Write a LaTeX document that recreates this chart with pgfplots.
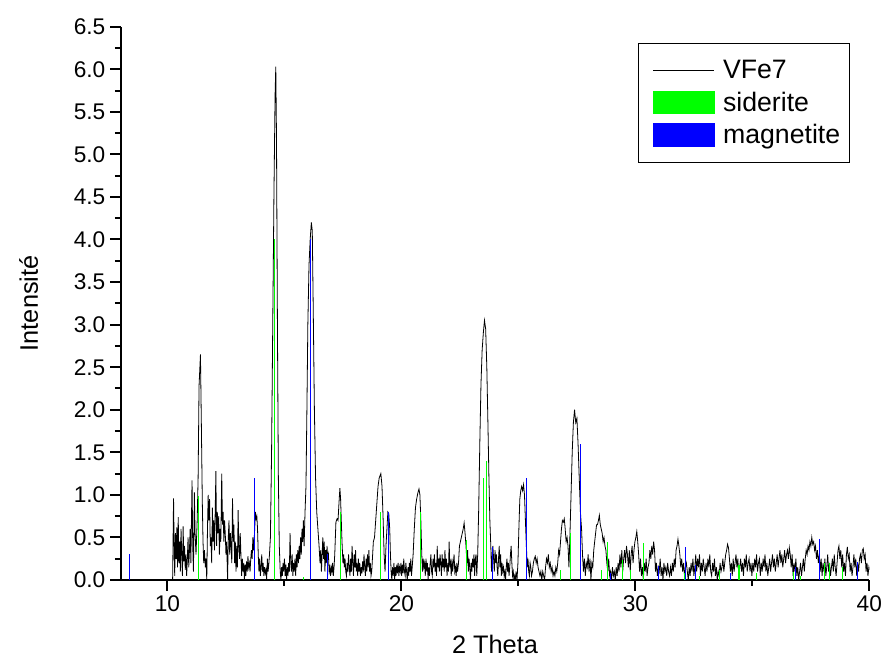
\documentclass[border=0pt]{standalone}
\usepackage{pgfplots}
\pgfplotsset{compat=1.18}
\usepackage{fontspec}
\setmainfont{Liberation Sans}
\usetikzlibrary{calc}
\definecolor{sidgreen}{RGB}{0,255,0}
\definecolor{magblue}{RGB}{0,0,255}
\begin{document}
\begin{tikzpicture}
\begin{axis}[name=ax, scale only axis, width=561.45pt, height=415pt,
 xmin=8, xmax=40, ymin=0, ymax=6.5,
 axis lines*=left, axis line style={line width=1.5pt},
 tick align=outside, major tick length=8pt, minor tick length=4.3pt,
 every tick/.style={black, line width=1.5pt},
 xtick={10,20,30,40}, minor xtick={15,25,35},
 ytick={0,0.5,1,1.5,2,2.5,3,3.5,4,4.5,5,5.5,6,6.5},
 minor ytick={0.25,0.75,1.25,1.75,2.25,2.75,3.25,3.75,4.25,4.75,5.25,5.75,6.25},
 yticklabel style={/pgf/number format/.cd, fixed, fixed zerofill, precision=1},
 /pgf/number format/assume math mode=true,
 tick label style={font=\fontsize{17}{20}\selectfont},
 label style={font=\fontsize{19}{22}\selectfont},
 xlabel={2 Theta}, ylabel={Intensité},
 xlabel style={at={(axis description cs:0.5,-0.132)}, anchor=base},
 ylabel style={at={(axis description cs:-0.123,0.5)}, anchor=center},
 legend style={at={(0.9742,0.9705)}, anchor=north east, draw=black, line width=0.75pt,
   font=\fontsize{20}{24}\selectfont, legend cell align=left,
   inner xsep=5pt, inner ysep=10.5pt, row sep=4.5pt},
]
\addplot[black, line width=0.6pt, legend image code/.code={\path (0pt,0pt) (56pt,0pt); \draw[black, line width=0.6pt] (6pt,0pt) -- (51.75pt,0pt);}] coordinates {
(8,0) (10.22,0) (10.26,0.96) (10.29,0.30) (10.31,0.05) (10.34,0.55) (10.37,0.25) (10.40,0.62) (10.43,0.15) (10.46,0.74) (10.49,0.20) (10.52,0.45) (10.55,0.10) (10.58,0.60) (10.61,0.28) (10.64,0.05) (10.67,0.63) (10.70,0.22) (10.73,0.40) (10.76,0.12) (10.79,0.30) (10.82,0.05) (10.85,0.25) (10.88,0.50) (10.91,0.15) (10.94,0.35) (10.97,0.60) (11.00,0.20) (11.05,1.17) (11.08,0.40) (11.11,0.10) (11.15,1.03) (11.18,0.55) (11.22,0.30) (11.27,0.70) (11.31,1.20) (11.35,2.28) (11.41,2.65) (11.45,1.80) (11.49,0.90) (11.52,0.45) (11.55,0.20) (11.58,0.35) (11.62,0.15) (11.65,0.25) (11.68,0.00) (11.71,0.60) (11.74,1.00) (11.77,0.70) (11.80,0.95) (11.83,0.40) (11.86,0.50) (11.89,0.20) (11.92,0.85) (11.95,0.45) (11.98,0.70) (12.01,0.35) (12.04,0.80) (12.07,1.28) (12.10,0.40) (12.13,0.80) (12.16,0.55) (12.19,0.75) (12.22,0.30) (12.25,0.60) (12.28,0.45) (12.32,1.25) (12.35,0.65) (12.38,0.80) (12.41,0.45) (12.44,0.70) (12.47,0.55) (12.50,0.30) (12.53,0.45) (12.57,0.00) (12.60,0.50) (12.63,0.70) (12.66,0.30) (12.69,0.55) (12.72,0.40) (12.75,0.20) (12.78,0.96) (12.81,0.45) (12.84,0.65) (12.87,0.20) (12.90,0.45) (12.93,0.10) (12.96,0.40) (12.99,0.15) (13.02,0.82) (13.05,0.40) (13.08,0.25) (13.11,0.55) (13.14,0.30) (13.17,0.05) (13.20,0.25) (13.23,0.10) (13.26,0.20) (13.29,0.00) (13.32,0.18) (13.35,0.05) (13.38,0.22) (13.41,0.10) (13.44,0.28) (13.47,0.15) (13.50,0.20) (13.53,0.10) (13.56,0.25) (13.59,0.35) (13.62,0.25) (13.65,0.50) (13.68,0.35) (13.72,0.55) (13.76,0.80) (13.79,0.72) (13.82,0.75) (13.85,0.60) (13.88,0.30) (13.91,0.10) (13.94,0.25) (13.97,0.05) (14.00,0.15) (14.03,0.30) (14.06,0.10) (14.09,0.20) (14.12,0.05) (14.15,0.15) (14.18,0.08) (14.21,0.12) (14.24,0.00) (14.27,0.25) (14.30,0.10) (14.33,0.18) (14.36,0.30) (14.40,0.50) (14.45,1.50) (14.50,3.00) (14.55,4.50) (14.60,5.70) (14.63,6.03) (14.66,5.20) (14.70,3.00) (14.74,1.20) (14.78,0.40) (14.82,0.10) (14.85,0.00) (14.88,0.15) (14.91,0.05) (14.94,0.20) (14.97,0.10) (15.00,0.25) (15.03,0.05) (15.06,0.18) (15.09,0.00) (15.12,0.15) (15.15,0.05) (15.18,0.20) (15.21,0.10) (15.24,0.55) (15.27,0.20) (15.30,0.10) (15.33,0.30) (15.36,0.05) (15.39,0.20) (15.42,0.10) (15.45,0.25) (15.48,0.05) (15.51,0.30) (15.54,0.15) (15.57,0.35) (15.60,0.20) (15.63,0.40) (15.66,0.25) (15.69,0.50) (15.72,0.30) (15.75,0.60) (15.78,0.45) (15.81,0.70) (15.84,0.40) (15.88,0.80) (15.92,1.10) (15.96,2.00) (16.00,3.00) (16.05,3.70) (16.10,4.00) (16.15,4.20) (16.19,4.10) (16.23,3.20) (16.28,2.00) (16.33,1.20) (16.38,0.80) (16.43,0.60) (16.48,0.40) (16.52,0.20) (16.55,0.35) (16.58,0.10) (16.61,0.30) (16.64,0.50) (16.67,0.25) (16.70,0.45) (16.73,0.10) (16.76,0.35) (16.79,0.20) (16.82,0.40) (16.85,0.25) (16.88,0.30) (16.91,0.10) (16.94,0.15) (16.97,0.05) (17.00,0.15) (17.03,0.10) (17.06,0.20) (17.09,0.05) (17.12,0.15) (17.15,0.30) (17.20,0.68) (17.25,0.72) (17.29,0.70) (17.33,0.90) (17.37,1.08) (17.40,0.95) (17.43,0.70) (17.46,0.45) (17.50,0.20) (17.53,0.30) (17.56,0.15) (17.59,0.25) (17.62,0.10) (17.65,0.05) (17.68,0.20) (17.71,0.10) (17.74,0.30) (17.77,0.15) (17.80,0.05) (17.83,0.25) (17.86,0.10) (17.89,0.40) (17.92,0.20) (17.95,0.05) (17.98,0.30) (18.01,0.15) (18.04,0.35) (18.07,0.10) (18.10,0.20) (18.13,0.05) (18.16,0.25) (18.19,0.10) (18.22,0.20) (18.25,0.05) (18.28,0.15) (18.31,0.08) (18.34,0.22) (18.37,0.10) (18.40,0.30) (18.43,0.15) (18.46,0.05) (18.49,0.25) (18.52,0.10) (18.55,0.30) (18.58,0.15) (18.61,0.35) (18.64,0.10) (18.67,0.20) (18.70,0.05) (18.73,0.10) (18.76,0.25) (18.80,0.45) (18.85,0.50) (18.90,0.70) (18.95,0.90) (19.00,1.10) (19.05,1.20) (19.12,1.25) (19.17,1.10) (19.22,0.70) (19.26,0.30) (19.30,0.10) (19.34,0.40) (19.38,0.60) (19.42,0.80) (19.46,0.78) (19.50,0.60) (19.53,0.30) (19.56,0.10) (19.59,0.00) (19.62,0.15) (19.65,0.05) (19.68,0.20) (19.71,0.00) (19.74,0.15) (19.77,0.05) (19.80,0.18) (19.83,0.08) (19.86,0.20) (19.89,0.05) (19.92,0.15) (19.95,0.10) (19.98,0.20)
(20.01,0.05) (20.04,0.18) (20.07,0.08) (20.10,0.25) (20.13,0.10) (20.16,0.05) (20.19,0.20) (20.22,0.10) (20.25,0.00) (20.28,0.15) (20.31,0.05) (20.34,0.20) (20.37,0.10) (20.40,0.25) (20.43,0.05) (20.46,0.15) (20.50,0.30) (20.55,0.60) (20.60,0.85) (20.65,0.95) (20.70,1.02) (20.75,1.07) (20.79,1.00) (20.83,0.70) (20.87,0.30) (20.90,0.10) (20.93,0.25) (20.96,0.15) (20.99,0.20) (21.02,0.05) (21.05,0.25) (21.08,0.10) (21.11,0.20) (21.14,0.00) (21.17,0.15) (21.20,0.05) (21.23,0.20) (21.26,0.30) (21.29,0.10) (21.32,0.05) (21.35,0.25) (21.38,0.15) (21.41,0.30) (21.44,0.10) (21.47,0.20) (21.50,0.05) (21.53,0.40) (21.56,0.15) (21.59,0.25) (21.62,0.10) (21.65,0.30) (21.68,0.20) (21.71,0.05) (21.74,0.30) (21.77,0.15) (21.80,0.25) (21.83,0.10) (21.86,0.35) (21.89,0.15) (21.92,0.25) (21.95,0.05) (21.98,0.20) (22.01,0.10) (22.04,0.45) (22.07,0.15) (22.10,0.20) (22.13,0.05) (22.16,0.25) (22.19,0.10) (22.22,0.20) (22.25,0.30) (22.28,0.10) (22.31,0.15) (22.34,0.05) (22.37,0.20) (22.40,0.10) (22.44,0.20) (22.48,0.40) (22.52,0.45) (22.56,0.50) (22.60,0.55) (22.64,0.60) (22.68,0.67) (22.72,0.55) (22.76,0.40) (22.80,0.20) (22.83,0.35) (22.86,0.10) (22.89,0.25) (22.92,0.15) (22.95,0.00) (22.98,0.20) (23.01,0.10) (23.04,0.25) (23.07,0.15) (23.10,0.30) (23.13,0.05) (23.16,0.25) (23.19,0.30) (23.22,0.05) (23.26,0.30) (23.30,0.80) (23.35,1.60) (23.40,2.30) (23.45,2.70) (23.50,2.90) (23.55,3.05) (23.60,2.95) (23.65,2.50) (23.70,1.80) (23.74,1.20) (23.78,0.70) (23.82,0.40) (23.85,0.10) (23.88,0.30) (23.91,0.40) (23.94,0.25) (23.97,0.10) (24.00,0.35) (24.03,0.20) (24.06,0.30) (24.09,0.15) (24.12,0.05) (24.15,0.25) (24.18,0.40) (24.21,0.15) (24.24,0.30) (24.27,0.05) (24.30,0.20) (24.33,0.10) (24.36,0.15) (24.39,0.05) (24.42,0.10) (24.45,0.00) (24.48,0.15) (24.51,0.25) (24.54,0.10) (24.57,0.20) (24.60,0.05) (24.63,0.15) (24.66,0.30) (24.69,0.40) (24.72,0.20) (24.75,0.05) (24.78,0.10) (24.81,0.00) (24.84,0.05) (24.87,0.00) (24.90,0.10) (24.94,0.00) (24.98,0.20) (25.02,0.60) (25.06,0.95) (25.10,1.05) (25.14,1.10) (25.18,1.05) (25.22,1.12) (25.26,1.00) (25.30,0.70) (25.34,0.40) (25.38,0.15) (25.41,0.25) (25.44,0.10) (25.47,0.05) (25.50,0.20) (25.53,0.15) (25.56,0.05) (25.60,0.10) (25.64,0.20) (25.68,0.25) (25.72,0.28) (25.76,0.20) (25.80,0.25) (25.84,0.15) (25.88,0.10) (25.92,0.05) (25.96,0.10) (26.00,0.00) (26.04,0.10) (26.08,0.05) (26.12,0.00) (26.16,0.15) (26.20,0.25) (26.24,0.20) (26.28,0.30) (26.32,0.15) (26.36,0.20) (26.40,0.10) (26.44,0.15) (26.48,0.05) (26.52,0.10) (26.56,0.05) (26.60,0.15) (26.64,0.10) (26.68,0.20) (26.72,0.35) (26.76,0.30) (26.80,0.45) (26.84,0.60) (26.88,0.70) (26.92,0.68) (26.96,0.72) (27.00,0.60) (27.04,0.45) (27.08,0.50) (27.12,0.40) (27.16,0.15) (27.20,0.50) (27.25,1.00) (27.30,1.50) (27.35,1.85) (27.40,2.00) (27.45,1.85) (27.50,1.90) (27.55,1.60) (27.60,1.20) (27.65,0.80) (27.70,0.60) (27.74,0.30) (27.78,0.10) (27.82,0.25) (27.86,0.05) (27.90,0.20) (27.94,0.15) (27.98,0.30) (28.02,0.10) (28.06,0.25) (28.10,0.00) (28.14,0.20) (28.18,0.15) (28.22,0.35) (28.26,0.45) (28.30,0.55) (28.34,0.65) (28.38,0.65) (28.42,0.70) (28.46,0.76) (28.50,0.65) (28.54,0.60) (28.58,0.55) (28.62,0.45) (28.66,0.50) (28.70,0.40) (28.74,0.35) (28.78,0.20) (28.82,0.10) (28.86,0.25) (28.90,0.05) (28.94,0.10) (28.98,0.00) (29.02,0.15) (29.06,0.05) (29.10,0.10) (29.14,0.00) (29.18,0.15) (29.22,0.05) (29.26,0.20) (29.30,0.10) (29.34,0.30) (29.38,0.15) (29.42,0.35) (29.46,0.10) (29.50,0.25) (29.54,0.35) (29.58,0.20) (29.62,0.40) (29.66,0.30) (29.70,0.15) (29.74,0.35) (29.78,0.10) (29.82,0.30) (29.86,0.40) (29.90,0.20) (29.94,0.35) (29.98,0.45) (30.02,0.50) (30.06,0.57) (30.10,0.45) (30.14,0.30) (30.18,0.10) (30.22,0.25) (30.26,0.05) (30.30,0.15) (30.34,0.00) (30.38,0.20) (30.42,0.10) (30.46,0.25) (30.50,0.05) (30.54,0.15) (30.58,0.20) (30.62,0.35) (30.66,0.25) (30.70,0.40) (30.74,0.30) (30.78,0.45) (30.82,0.35) (30.86,0.10) (30.90,0.20) (30.94,0.05) (30.98,0.15)
(31.02,0.10) (31.06,0.25) (31.10,0.05) (31.14,0.15) (31.18,0.00) (31.22,0.20) (31.26,0.10) (31.30,0.15) (31.34,0.05) (31.38,0.20) (31.42,0.10) (31.46,0.05) (31.50,0.15) (31.54,0.05) (31.58,0.20) (31.62,0.10) (31.66,0.25) (31.70,0.15) (31.74,0.35) (31.78,0.40) (31.82,0.48) (31.86,0.40) (31.90,0.30) (31.94,0.15) (31.98,0.25) (32.02,0.10) (32.06,0.20) (32.10,0.05) (32.14,0.15) (32.18,0.20) (32.22,0.10) (32.26,0.00) (32.30,0.15) (32.34,0.05) (32.38,0.20) (32.42,0.10) (32.46,0.25) (32.50,0.05) (32.54,0.15) (32.58,0.30) (32.62,0.10) (32.66,0.25) (32.70,0.15) (32.74,0.30) (32.78,0.05) (32.82,0.20) (32.86,0.10) (32.90,0.25) (32.94,0.15) (32.98,0.05) (33.02,0.20) (33.06,0.10) (33.10,0.25) (33.14,0.15) (33.18,0.30) (33.22,0.10) (33.26,0.05) (33.30,0.20) (33.34,0.10) (33.38,0.25) (33.42,0.05) (33.46,0.15) (33.50,0.00) (33.54,0.10) (33.58,0.05) (33.62,0.20) (33.66,0.10) (33.70,0.15) (33.74,0.25) (33.78,0.10) (33.82,0.20) (33.86,0.30) (33.90,0.35) (33.94,0.42) (33.98,0.38) (34.02,0.25) (34.06,0.10) (34.10,0.20) (34.14,0.05) (34.18,0.25) (34.22,0.10) (34.26,0.20) (34.30,0.30) (34.34,0.15) (34.38,0.25) (34.42,0.05) (34.46,0.15) (34.50,0.25) (34.54,0.10) (34.58,0.20) (34.62,0.05) (34.66,0.25) (34.70,0.15) (34.74,0.30) (34.78,0.10) (34.82,0.20) (34.86,0.25) (34.90,0.10) (34.94,0.20) (34.98,0.05) (35.02,0.20) (35.06,0.10) (35.10,0.25) (35.14,0.15) (35.18,0.30) (35.22,0.10) (35.26,0.20) (35.30,0.25) (35.34,0.05) (35.38,0.20) (35.42,0.10) (35.46,0.25) (35.50,0.15) (35.54,0.30) (35.58,0.10) (35.62,0.20) (35.66,0.05) (35.70,0.15) (35.74,0.25) (35.78,0.10) (35.82,0.20) (35.86,0.30) (35.90,0.15) (35.94,0.25) (35.98,0.10) (36.02,0.20) (36.06,0.30) (36.10,0.15) (36.14,0.25) (36.18,0.35) (36.22,0.20) (36.26,0.30) (36.30,0.15) (36.34,0.25) (36.38,0.35) (36.42,0.20) (36.46,0.30) (36.50,0.35) (36.54,0.25) (36.58,0.38) (36.62,0.30) (36.66,0.15) (36.70,0.30) (36.74,0.05) (36.78,0.20) (36.82,0.10) (36.86,0.25) (36.90,0.05) (36.94,0.15) (36.98,0.00) (37.02,0.10) (37.06,0.20) (37.10,0.05) (37.14,0.15) (37.18,0.25) (37.22,0.10) (37.26,0.25) (37.30,0.35) (37.34,0.30) (37.38,0.40) (37.42,0.35) (37.46,0.45) (37.50,0.40) (37.54,0.50) (37.58,0.42) (37.62,0.45) (37.66,0.35) (37.70,0.40) (37.74,0.25) (37.78,0.35) (37.82,0.20) (37.86,0.30) (37.90,0.10) (37.94,0.25) (37.98,0.05) (38.02,0.20) (38.06,0.10) (38.10,0.25) (38.14,0.05) (38.18,0.15) (38.22,0.30) (38.26,0.10) (38.30,0.20) (38.34,0.05) (38.38,0.15) (38.42,0.25) (38.46,0.10) (38.50,0.30) (38.54,0.15) (38.58,0.05) (38.62,0.20) (38.66,0.35) (38.70,0.40) (38.74,0.25) (38.78,0.35) (38.82,0.15) (38.86,0.30) (38.90,0.10) (38.94,0.20) (38.98,0.05) (39.02,0.30) (39.06,0.39) (39.10,0.25) (39.14,0.30) (39.18,0.10) (39.22,0.20) (39.26,0.05) (39.30,0.15) (39.34,0.30) (39.38,0.15) (39.42,0.25) (39.46,0.05) (39.50,0.20) (39.54,0.10) (39.58,0.25) (39.62,0.30) (39.66,0.20) (39.70,0.35) (39.74,0.37) (39.78,0.25) (39.82,0.30) (39.86,0.10) (39.90,0.20) (39.94,0.05) (39.98,0.15) (40.00,0.12)
};
\addlegendentry{VFe7}
\addplot[ycomb, color=sidgreen, line width=0.75pt, legend image code/.code={\path (0pt,0pt) (56pt,0pt); \fill[sidgreen] (6pt,-8.6pt) rectangle (51.75pt,8.6pt);}] coordinates {
(11.32,0.99) (14.56,4.00) (15.82,0.03) (17.40,0.80) (19.10,0.80) (20.82,0.80) (22.78,0.47) (23.50,1.20) (23.65,1.40) (26.82,0.12) (27.24,0.55) (28.55,0.12) (28.79,0.45) (29.44,0.23) (29.79,0.12) (30.36,0.43) (32.12,0.08) (32.73,0.05) (33.61,0.12) (34.40,0.18) (34.47,0.18) (35.18,0.08) (36.75,0.10) (37.06,0.05) (38.07,0.20) (38.29,0.20) (38.84,0.15)
};
\addlegendentry{siderite}
\addplot[ycomb, color=magblue, line width=0.75pt, legend image code/.code={\path (0pt,0pt) (56pt,0pt); \fill[magblue] (6pt,-8.6pt) rectangle (51.75pt,8.6pt);}] coordinates {
(8.39,0.31) (13.73,1.20) (16.10,4.00) (16.82,0.31) (19.46,0.80) (23.88,0.39) (25.36,1.20) (27.66,1.60) (28.95,0.08) (31.00,0.16) (32.16,0.39) (32.55,0.18) (34.07,0.08) (36.86,0.15) (37.89,0.48) (39.48,0.21)
};
\addlegendentry{magnetite}
\end{axis}
\pgfresetboundingbox
\path[use as bounding box] ($(ax.south west)+(-90.5pt,-58.5pt)$) rectangle ($(ax.north east)+(9.5pt,20pt)$);
\end{tikzpicture}
\end{document}
